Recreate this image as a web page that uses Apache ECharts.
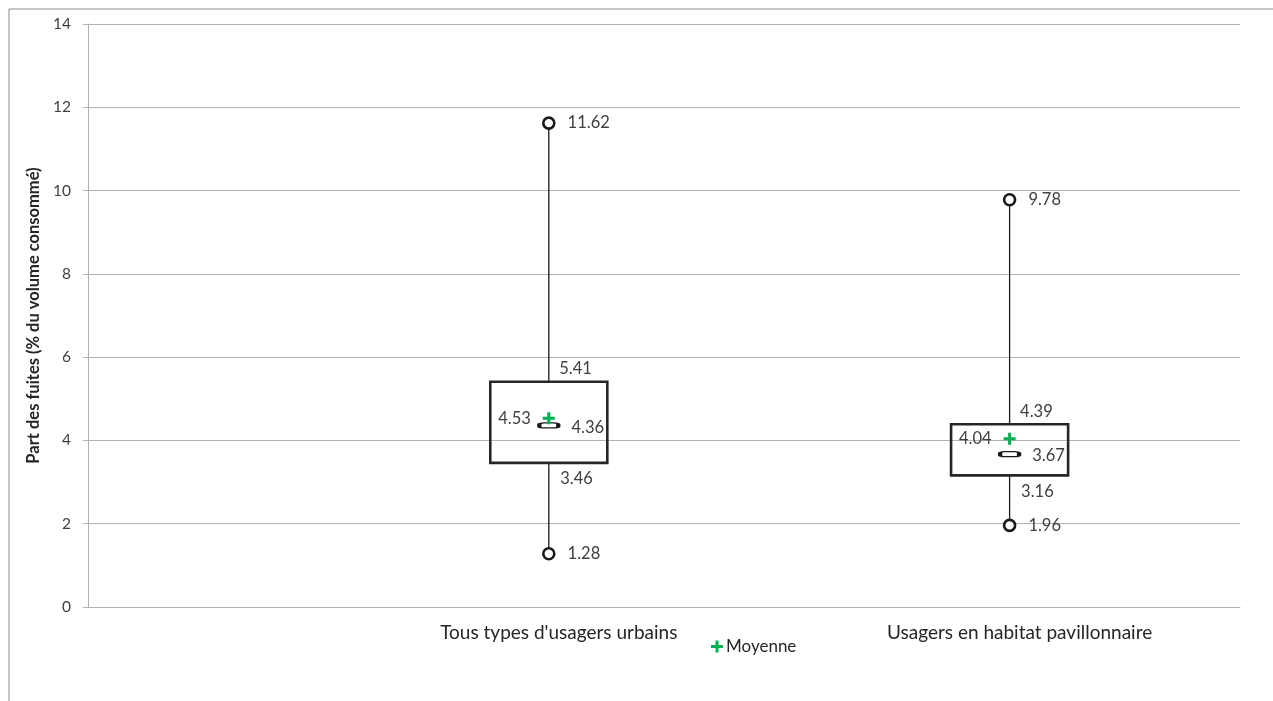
<!DOCTYPE html>
<html>
<head>
<meta charset="utf-8">
<script src="https://cdn.jsdelivr.net/npm/echarts@6/dist/echarts.min.js"></script>
<style>
  html, body { margin: 0; padding: 0; background: #fff; }
  #chart { width: 1273px; height: 701px; }
</style>
</head>
<body>
<div id="chart"></div>
<script>
var categories = ["Tous types d'usagers urbains", 'Usagers en habitat pavillonnaire'];
var minValues = [1.28, 1.96];
var q1Values = [3.46, 3.16];
var medianValues = [4.36, 3.67];
var meanValues = [4.53, 4.04];
var q3Values = [5.41, 4.39];
var maxValues = [11.62, 9.78];
var yTicks = [0, 2, 4, 6, 8, 10, 12, 14];

var FONT = 'Lato, "Open Sans", sans-serif';
var TEXT = '#404040';
var PLUS = 'path://M4.5,0H7.5V4.5H12V7.5H7.5V12H4.5V7.5H0V4.5H4.5Z';

// position on the x value axis for each category
var xpos = categories.map(function (c, i) { return i + 1; });

var pts = function (vals) {
    return vals.map(function (v, i) { return [xpos[i], v]; });
};

var boxData = categories.map(function (c, i) {
    return [xpos[i], minValues[i], q1Values[i], q3Values[i], maxValues[i]];
});

var labelStyle = { fontFamily: FONT, fontSize: 16.5, color: TEXT, opacity: 1 };
var fmt = function (p) { return p.value[1].toFixed(2); };

var renderBox = function (params, api) {
    var x = api.value(0);
    var half = 0.127;
    var pMin = api.coord([x, api.value(1)]);
    var pQ1 = api.coord([x, api.value(2)]);
    var pQ3 = api.coord([x, api.value(3)]);
    var pMax = api.coord([x, api.value(4)]);
    var left = api.coord([x - half, 0])[0];
    var right = api.coord([x + half, 0])[0];
    var line = { stroke: '#1a1a1a', lineWidth: 1.3 };
    return {
        type: 'group',
        children: [
            { type: 'line', shape: { x1: pMin[0], y1: pMin[1], x2: pQ1[0], y2: pQ1[1] }, style: line },
            { type: 'line', shape: { x1: pQ3[0], y1: pQ3[1], x2: pMax[0], y2: pMax[1] }, style: line },
            {
                type: 'rect',
                shape: { x: left, y: pQ3[1], width: right - left, height: pQ1[1] - pQ3[1] },
                style: { fill: 'none', stroke: '#262626', lineWidth: 2.6 }
            }
        ]
    };
};

var myChart = echarts.init(document.getElementById('chart'));

myChart.setOption({
    backgroundColor: '#fff',
    animation: false,
    textStyle: { fontFamily: FONT },
    graphic: [{
        type: 'rect',
        shape: { x: 9, y: 9, width: 1400, height: 900 },
        style: { fill: 'none', stroke: '#8c8c8c', lineWidth: 1 },
        silent: true
    }],
    grid: { left: 88, right: 33, top: 24, bottom: 94 },
    legend: {
        data: [{ name: 'Moyenne', icon: PLUS }],
        left: 706,
        top: 633,
        itemWidth: 12,
        itemHeight: 12,
        itemGap: 4,
        textStyle: { fontFamily: FONT, fontSize: 17, color: '#262626', padding: [0, 0, 0, -2] }
    },
    xAxis: {
        type: 'value',
        min: 0,
        max: 2.5,
        interval: 1,
        splitLine: { show: false },
        axisTick: { show: false },
        axisLine: { show: true, lineStyle: { color: '#b3b3b3', width: 1 } },
        axisLabel: {
            margin: 16,
            showMaxLabel: false,
            fontFamily: FONT,
            fontSize: 19,
            color: '#262626',
            padding: [0, 0, 0, 20],
            formatter: function (v) {
                var idx = xpos.indexOf(v);
                return idx >= 0 ? categories[idx] : '';
            }
        }
    },
    yAxis: {
        type: 'value',
        min: yTicks[0],
        max: yTicks[yTicks.length - 1],
        interval: 2,
        name: 'Part des fuites (% du volume consommé)',
        nameLocation: 'middle',
        nameGap: 45,
        nameTextStyle: { fontFamily: FONT, fontSize: 16.5, fontWeight: 'bold', color: '#262626' },
        axisLine: { show: true, lineStyle: { color: '#b3b3b3' } },
        axisTick: { show: true, length: 5, lineStyle: { color: '#b3b3b3' } },
        splitLine: { lineStyle: { color: '#b3b3b3', width: 1 } },
        axisLabel: { fontFamily: FONT, fontSize: 15.5, color: '#404040', margin: 17 }
    },
    series: [
        {
            type: 'custom',
            renderItem: renderBox,
            data: boxData,
            encode: { x: 0, y: [1, 2, 3, 4] },
            z: 2,
            silent: true
        },
        {
            type: 'scatter',
            data: pts(maxValues).concat(pts(minValues)),
            symbol: 'circle',
            symbolSize: 11,
            itemStyle: { color: '#fff', borderColor: '#1a1a1a', borderWidth: 2.6, opacity: 1 },
            label: Object.assign({ show: true, position: 'right', distance: 12, formatter: fmt }, labelStyle),
            z: 5
        },
        {
            type: 'scatter',
            data: pts(medianValues),
            symbol: 'roundRect',
            symbolSize: [19, 5],
            itemStyle: { color: '#fff', borderColor: '#1a1a1a', borderWidth: 2.2, opacity: 1 },
            label: Object.assign({ show: true, position: 'right', distance: 11, offset: [0, 2], formatter: fmt }, labelStyle),
            z: 4
        },
        {
            name: 'Moyenne',
            type: 'scatter',
            data: pts(meanValues),
            symbol: PLUS,
            symbolSize: 12,
            itemStyle: { color: '#00b050', opacity: 1 },
            label: Object.assign({ show: true, position: 'left', distance: 12, formatter: fmt }, labelStyle),
            z: 6
        },
        {
            type: 'scatter',
            data: pts(q3Values),
            symbolSize: 1,
            itemStyle: { color: '#fff', opacity: 1 },
            label: Object.assign({ show: true, position: 'right', distance: 10, offset: [0, -13], formatter: fmt }, labelStyle),
            z: 1
        },
        {
            type: 'scatter',
            data: pts(q1Values),
            symbolSize: 1,
            itemStyle: { color: '#fff', opacity: 1 },
            label: Object.assign({ show: true, position: 'right', distance: 11, offset: [0, 16], formatter: fmt }, labelStyle),
            z: 1
        }
    ]
});
</script>
</body>
</html>
